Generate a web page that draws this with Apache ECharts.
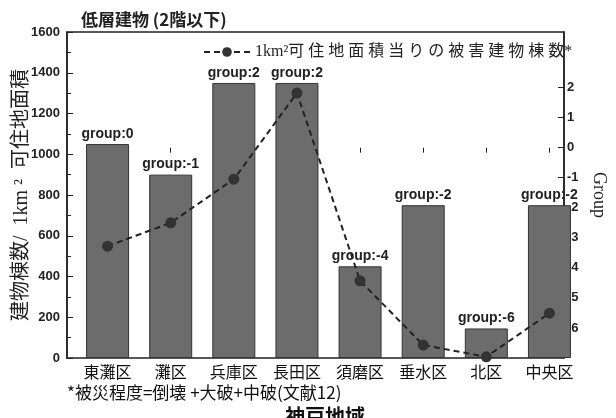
<!DOCTYPE html>
<html>
<head>
<meta charset="utf-8">
<script src="https://cdn.jsdelivr.net/npm/echarts@6/dist/echarts.min.js"></script>
<style>
html,body{margin:0;padding:0;background:#fff;}
#chart{width:616px;height:418px;}
</style>
</head>
<body>
<div id="chart"></div>
<script>
// ---- data ----
const categories = ['東灘区', '灘区', '兵庫区', '長田区', '須磨区', '垂水区', '北区', '中央区'];
const buildingsPerKm2 = [1050, 900, 1350, 1350, 450, 750, 145, 750];
const groupLabels = ['group:0', 'group:-1', 'group:2', 'group:2', 'group:-4', 'group:-2', 'group:-6', 'group:-2'];
const groupValues = [-3.28, -2.50, -1.05, 1.82, -4.43, -6.57, -6.96, -5.51];
const groupTicks = [-6, -5, -4, -3, -2, -1, 0, 1, 2];
const lineName = '1km²可 住 地 面 積 当 り の 被 害 建 物 棟 数*';
const titleText = '低層建物 (2階以下)';
const leftAxisName = '建物棟数/  1km ²  可住地面積';
const rightAxisName = 'Group';
const xAxisName = '神戸地域';
const footnote = '*被災程度=倒壊 +大破+中破(文献12)';

const INK = '#222';
const numFont = "'Liberation Sans', Arial, sans-serif";
const cjkFont = "'Liberation Serif', 'Noto Sans CJK JP', serif";

const chart = echarts.init(document.getElementById('chart'), null, {renderer: 'canvas'});
chart.setOption({
  backgroundColor: '#ffffff',
  animation: false,
  textStyle: {fontFamily: cjkFont},
  title: {
    text: titleText, left: 76, top: 6,
    textStyle: {fontSize: 17, fontWeight: 'bold', color: INK, fontFamily: "'Noto Sans CJK JP', sans-serif"}
  },
  legend: {
    left: 198, top: 39,
    itemWidth: 46, itemHeight: 12, itemGap: 6,
    data: [lineName],
    textStyle: {fontSize: 16, color: INK, fontFamily: cjkFont}
  },
  grid: [
    {left: 67, right: 34, top: 32, bottom: 60, show: true, borderColor: INK, borderWidth: 1.5, backgroundColor: 'transparent'},
    {left: 76, right: 35, top: 32, bottom: 60}
  ],
  xAxis: [
    {type: 'value', gridIndex: 0, show: false, min: 0, max: 1},
    {
      type: 'category', gridIndex: 1, data: categories, position: 'bottom',
      axisLine: {show: false},
      axisTick: {show: true, inside: true, alignWithLabel: true, length: 5, lineStyle: {color: INK}},
      axisLabel: {margin: 6, fontSize: 16, color: '#111', fontFamily: "'Noto Sans CJK JP', sans-serif"}
    },
    {
      type: 'category', gridIndex: 1, data: categories, position: 'top',
      axisLine: {show: false},
      axisTick: {show: true, inside: true, alignWithLabel: true, length: 5, lineStyle: {color: INK}},
      axisLabel: {show: false}
    }
  ],
  yAxis: [
    {
      type: 'value', gridIndex: 0, position: 'left', min: 0, max: 1600, interval: 200,
      name: leftAxisName, nameLocation: 'middle', nameRotate: 90, nameGap: 35, nameMoveOverlap: false,
      nameTextStyle: {fontSize: 20, color: INK, fontFamily: cjkFont},
      axisLine: {show: true, lineStyle: {color: INK, width: 1.5}},
      axisTick: {show: true, inside: true, length: 6, lineStyle: {color: INK}},
      minorTick: {show: true, splitNumber: 2, length: 4, lineStyle: {color: INK}},
      splitLine: {show: false},
      axisLabel: {margin: 7, fontSize: 13, fontWeight: 'bold', color: INK, fontFamily: numFont, formatter: v => String(v)}
    },
    {
      type: 'value', gridIndex: 0, position: 'right', min: -7, max: 3.85,
      name: rightAxisName, nameLocation: 'middle', nameRotate: -90, nameGap: 26,
      nameTextStyle: {fontSize: 18, color: INK, fontFamily: "'Liberation Serif', serif"},
      axisLine: {show: true, lineStyle: {color: INK, width: 1.5}},
      axisTick: {show: true, inside: true, length: 6, customValues: groupTicks, lineStyle: {color: INK}},
      splitLine: {show: false},
      axisLabel: {margin: 3, fontSize: 13, fontWeight: 'bold', color: INK, fontFamily: numFont, customValues: groupTicks}
    },
    {type: 'value', gridIndex: 1, min: 0, max: 1600, show: false},
    {type: 'value', gridIndex: 1, min: -7, max: 3.85, show: false}
  ],
  series: [
    {
      type: 'bar', name: 'bars', xAxisIndex: 1, yAxisIndex: 2,
      data: buildingsPerKm2, barWidth: 43,
      itemStyle: {color: '#6c6c6c', borderColor: '#333', borderWidth: 1},
      label: {
        show: true, position: 'top', distance: 3,
        formatter: p => groupLabels[p.dataIndex],
        fontSize: 14, fontWeight: 'bold', color: INK, fontFamily: numFont
      },
      z: 2
    },
    {
      type: 'line', name: lineName, xAxisIndex: 1, yAxisIndex: 3,
      data: groupValues,
      symbol: 'circle', symbolSize: 11,
      lineStyle: {type: [6, 4], width: 2, color: INK},
      itemStyle: {color: '#333'},
      z: 3
    }
  ],
  graphic: [
    {type: 'text', left: 67, top: 384, style: {text: footnote, fontSize: 17, fill: '#111', fontFamily: "'Noto Sans CJK JP', sans-serif"}},
    {type: 'text', left: 285, top: 406, style: {text: xAxisName, fontSize: 20, fontWeight: 'bold', fill: '#111', fontFamily: "'Noto Sans CJK JP', sans-serif"}}
  ]
});
</script>
</body>
</html>
